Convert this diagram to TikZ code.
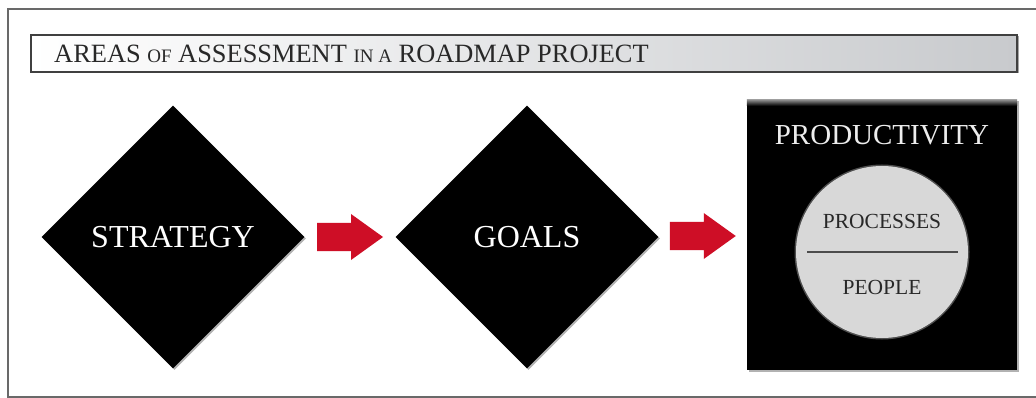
\documentclass[tikz,border=0pt]{standalone}
\usepackage{fontspec}
\setmainfont{Liberation Serif}
\usetikzlibrary{shapes.geometric,shadows,calc}
\definecolor{arrowred}{RGB}{206,14,38}
\definecolor{framegray}{RGB}{105,105,105}
\definecolor{bargray}{RGB}{200,202,205}
\definecolor{circgray}{RGB}{216,216,216}
\definecolor{textdark}{RGB}{40,40,40}
\tikzset{
  framebox/.style={draw=framegray, line width=1.5pt},
  titlebar/.style={draw=black!75, line width=1.4pt, left color=white, right color=bargray,
    minimum width=986pt, minimum height=37pt, inner sep=0pt,
    drop shadow={shadow xshift=1.5pt, shadow yshift=-1.5pt, fill=black, opacity=.35}},
  titletext/.style={anchor=west, inner sep=0pt, text=textdark},
  diam/.style={diamond, fill=black, minimum width=263pt, minimum height=263pt, inner sep=0pt,
    text=white, font=\fontsize{32}{32}\selectfont,
    drop shadow={shadow xshift=1.5pt, shadow yshift=-1.5pt, fill=black, opacity=.3}},
  blockarrow/.style={fill=arrowred},
  prodbox/.style={rectangle, fill=black, minimum width=270pt, minimum height=270pt, inner sep=0pt,
    drop shadow={shadow xshift=1.5pt, shadow yshift=-1.5pt, fill=black, opacity=.3}},
  prodtext/.style={text=white!93!black, font=\fontsize{29}{29}\selectfont, inner sep=0pt},
  innercirc/.style={circle, fill=circgray, minimum size=172pt, inner sep=0pt},
  circtext/.style={text=textdark, font=\fontsize{21.5}{21.5}\selectfont, inner sep=0pt},
  divider/.style={draw=black!70, line width=1.5pt}
}
\begin{document}
\begin{tikzpicture}[x=1pt,y=-1pt]
\useasboundingbox (0,0) rectangle (1036,398);
\fill[white] (0,0) rectangle (1036,398);
\draw[framebox] (8,9) rectangle (1050,397);

\node[titlebar] (bar) at (524,53.5) {};
\node[titletext] (title) at (54,54)
  {\fontsize{26.4}{26.4}\selectfont AREAS {\fontsize{19}{19}\selectfont OF} ASSESSMENT {\fontsize{19}{19}\selectfont IN A} ROADMAP PROJECT};

\node[diam] (strategy) at (173,237) {STRATEGY};
\node[diam] (goals) at (527,237) {GOALS};
\node[prodbox] (prod) at (882,235) {};
\shade[top color=black!45, bottom color=black] (prod.north west) rectangle ($(prod.north east)+(0,6)$);

\coordinate (arr1) at ($(strategy.east)!0.5!(goals.west)$);
\coordinate (arr2) at ($(goals.east)!0.5!(prod.west)$);
\fill[blockarrow, shift={(arr1)}] (-33,-14) -- (1,-14) -- (1,-23) -- (33,0) -- (1,23) -- (1,14) -- (-33,14) -- cycle;
\fill[blockarrow, shift={(arr2)}] (-33,-14) -- (1,-14) -- (1,-23) -- (33,0) -- (1,23) -- (1,14) -- (-33,14) -- cycle;

\node[prodtext] (prodlabel) at (882,135) {PRODUCTIVITY};
\node[circle, fill=circgray!60!black, minimum size=175pt, inner sep=0pt, opacity=.6] (halo) at (882,252) {};
\node[innercirc] (circ) at (882,252) {};
\node[circtext] (processes) at (882,221) {PROCESSES};
\node[circtext] (people) at (882,287) {PEOPLE};
\coordinate (divL) at ($(circ.center)+(-75,0)$);
\coordinate (divR) at ($(circ.center)+(76,0)$);
\draw[divider] (divL) -- (divR);
\end{tikzpicture}
\end{document}
